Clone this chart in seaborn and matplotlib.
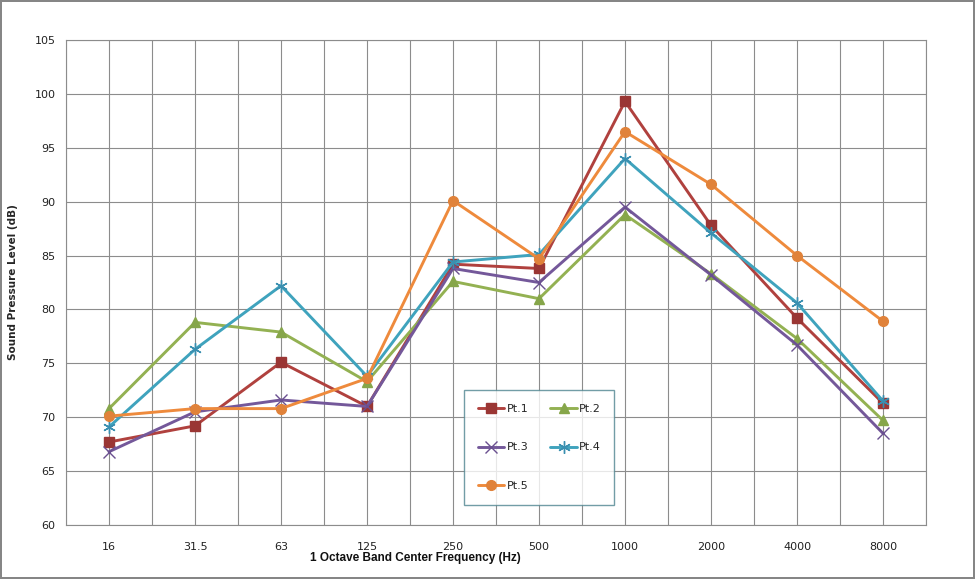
import matplotlib
matplotlib.use('Agg')
import matplotlib.pyplot as plt
import seaborn as sns
import pandas as pd
import numpy as np

# ─── Data ─────────────────────────────────────────────────────────────────────
FREQS = ['16', '31.5', '63', '125', '250', '500', '1000', '2000', '4000', '8000']
PT1 = [67.7, 69.2, 75.1, 71.0, 84.2, 83.8, 99.3, 87.8, 79.2, 71.3]
PT2 = [70.8, 78.8, 77.9, 73.3, 82.6, 81.0, 88.8, 83.3, 77.3, 69.7]
PT3 = [66.8, 70.5, 71.6, 71.0, 83.8, 82.5, 89.5, 83.2, 76.7, 68.5]
PT4 = [69.1, 76.3, 82.2, 73.8, 84.4, 85.1, 94.0, 87.1, 80.6, 71.5]
PT5 = [70.1, 70.8, 70.8, 73.6, 90.1, 84.7, 96.5, 91.6, 85.0, 78.9]
SERIES = ['Pt.1', 'Pt.2', 'Pt.3', 'Pt.4', 'Pt.5']

df = pd.DataFrame({'freq': FREQS * 5,
                   'spl': PT1 + PT2 + PT3 + PT4 + PT5,
                   'pt': np.repeat(SERIES, len(FREQS))})
df['freq'] = pd.Categorical(df['freq'], categories=FREQS, ordered=True)
df['xpos'] = df['freq'].cat.codes

# ─── Styles ───────────────────────────────────────────────────────────────────
colors = {'Pt.1': '#B0413E', 'Pt.2': '#93B152', 'Pt.3': '#74589A',
          'Pt.4': '#3FA3BD', 'Pt.5': '#EE8A3C'}
edge = {'Pt.1': '#9A3634', 'Pt.2': '#86A64A', 'Pt.3': '#6A5090',
        'Pt.4': '#3A8FB0', 'Pt.5': '#E0823A'}
markers = {'Pt.1': 's', 'Pt.2': '^', 'Pt.3': 'x', 'Pt.4': (6, 2, 0), 'Pt.5': 'o'}
msize = {'Pt.1': 7, 'Pt.2': 7, 'Pt.3': 8, 'Pt.4': 9, 'Pt.5': 7}

sns.set_style('white')
plt.rcParams['font.family'] = ['DejaVu Sans']

fig = plt.figure(figsize=(9.75, 5.79), dpi=100, edgecolor='#868686', linewidth=1.5)
ax = fig.add_axes([66 / 975, 54 / 579, 860 / 975, 485 / 579])

for pt in SERIES:
    sub = df[df['pt'] == pt]
    sns.lineplot(data=sub, x='xpos', y='spl', ax=ax, color=colors[pt],
                 marker=markers[pt], markersize=msize[pt], linewidth=2.1,
                 markeredgecolor=edge[pt], markerfacecolor=edge[pt],
                 markeredgewidth=1.0, label=pt, legend=False)

# ─── Axes ─────────────────────────────────────────────────────────────────────
ax.set_xlim(-0.5, len(FREQS) - 0.5)
ax.set_ylim(60, 105)
ax.set_xticks(range(len(FREQS)))
ax.set_xticklabels(FREQS)
ax.set_xticks(np.arange(-0.5, len(FREQS), 1.0), minor=True)
ax.set_yticks(np.arange(60, 106, 5))
ax.grid(True, which='both', color='#8C8C8C', linewidth=0.8)
ax.set_axisbelow(True)
for s in ax.spines.values():
    s.set_color('#8C8C8C')
    s.set_linewidth(0.8)
ax.tick_params(axis='both', which='both', direction='out', length=4,
               color='#8C8C8C', labelsize=8, labelcolor='#222222')
ax.tick_params(axis='x', which='major', pad=8)

# Excel left the axis title off-centre, towards the left
ax.set_xlabel('1 Octave Band Center Frequency (Hz)', fontsize=8.5,
              family=['Liberation Sans Narrow', 'Liberation Sans', 'DejaVu Sans'],
              fontweight='bold', color='#111111')
ax.xaxis.set_label_coords(0.406, -0.055)
ax.set_ylabel('Sound Pressure Level (dB)', fontsize=7.5, fontweight='bold', labelpad=12)

# legend, filled row by row like the original
handles, labels = ax.get_legend_handles_labels()
order = [0, 2, 4, 1, 3]
leg = ax.legend([handles[i] for i in order], [labels[i] for i in order],
                ncol=2, loc='upper left', bbox_to_anchor=(0.463, 0.278),
                fontsize=8, frameon=True, fancybox=False, labelspacing=2.6,
                handlelength=2.4, handletextpad=0.2, columnspacing=2.0,
                borderpad=1.2, borderaxespad=0)
leg.get_frame().set_edgecolor('#4F8590')
leg.get_frame().set_linewidth(1.0)

fig.savefig('out.png', dpi=100, edgecolor=fig.get_edgecolor())
